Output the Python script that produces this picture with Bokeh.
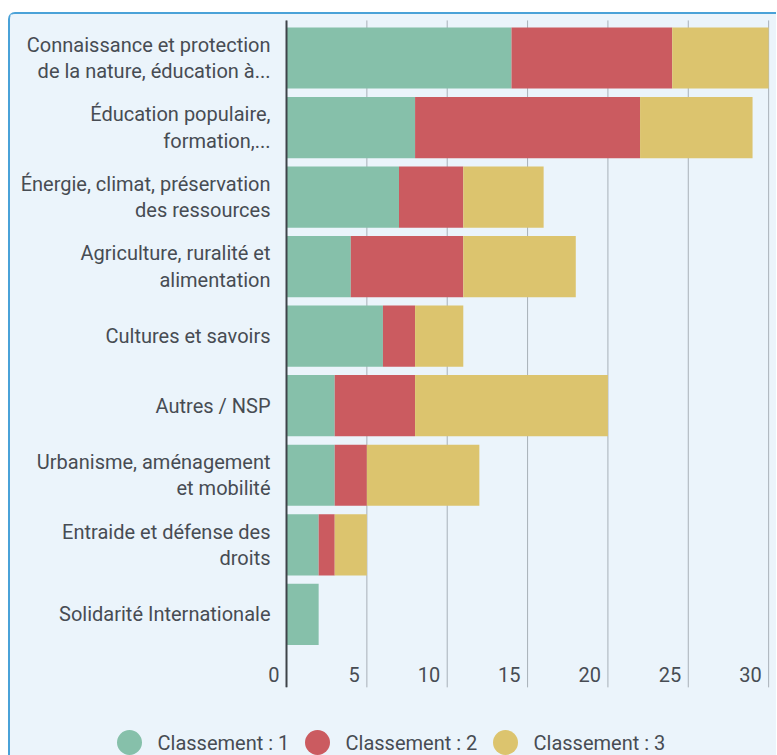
from bokeh.plotting import figure
from bokeh.layouts import column
from bokeh.models import ColumnDataSource, Range1d
from bokeh.core.properties import value
from bokeh.embed import file_html
from bokeh.resources import INLINE

# ---- data ----
categories = [
    "Connaissance et protection\nde la nature, éducation à...",
    "Éducation populaire,\nformation,...",
    "Énergie, climat, préservation\ndes ressources",
    "Agriculture, ruralité et\nalimentation",
    "Cultures et savoirs",
    "Autres / NSP",
    "Urbanisme, aménagement\net mobilité",
    "Entraide et défense des\ndroits",
    "Solidarité Internationale",
]
rank1 = [14, 8, 7, 4, 6, 3, 3, 2, 2]
rank2 = [10, 14, 4, 7, 2, 5, 2, 1, 0]
rank3 = [6, 7, 5, 7, 3, 12, 7, 2, 0]
series_names = ["Classement : 1", "Classement : 2", "Classement : 3"]
series_keys = ["r1", "r2", "r3"]
colors = ["#86c0aa", "#cb5b60", "#dcc46e"]
x_ticks = [0, 5, 10, 15, 20, 25, 30]

# ---- styling / layout constants ----
BG = "#ebf4fb"
TXT = "#474c53"
FONT = "Roboto"
FS = "20px"
W, H = 766, 741
X0, X1 = -17.175, 30.49
Y_TOP, Y_BOT = -0.6255, 10.03
PLOT_TOP, PLOT_BOTTOM = -0.54, 9.05      # extent of the plotting area (y units)
TICK_LABEL_Y = 8.86


def px_x(px):   # canvas pixel -> data x
    return X0 + px / W * (X1 - X0)


def px_y(py):   # canvas pixel -> data y
    return Y_TOP + py / H * (Y_BOT - Y_TOP)


LEGEND_PX_X = [119, 307, 495]   # circle centres (canvas px)
LEGEND_PX_Y = 728

ypos = list(range(len(categories)))
src = ColumnDataSource(dict(y=ypos, r1=rank1, r2=rank2, r3=rank3))

p = figure(width=W, height=H, output_backend="svg", toolbar_location=None,
           x_range=Range1d(X0, X1), y_range=Range1d(Y_BOT, Y_TOP),
           x_axis_location=None, y_axis_location=None, min_border=0,
           min_border_left=0, min_border_right=0, min_border_top=0, min_border_bottom=0)
p.background_fill_color = BG
p.border_fill_color = BG
p.outline_line_color = None
p.grid.visible = False

# vertical grid lines at the ticks
gsrc = ColumnDataSource(dict(x=x_ticks, y0=[PLOT_TOP] * len(x_ticks), y1=[PLOT_BOTTOM] * len(x_ticks)))
p.segment(x0="x", x1="x", y0="y0", y1="y1", source=gsrc, line_color="#a8b0b8", line_width=1)

# stacked bars
p.hbar_stack(series_keys, y="y", height=0.88, source=src, color=colors, line_color=None)

# value axis line at zero
p.segment(x0=[0], x1=[0], y0=[PLOT_TOP], y1=[PLOT_BOTTOM], line_color="#3e4349", line_width=2)

# x tick labels
lab = ColumnDataSource(dict(x=x_ticks, y=[TICK_LABEL_Y] * len(x_ticks), t=[str(v) for v in x_ticks]))
p.text(x="x", y="y", text="t", source=lab, x_offset=-7, text_align="right",
       text_baseline="middle", text_font=value(FONT), text_font_size=FS, text_color=TXT)

# category labels
csrc = ColumnDataSource(dict(x=[0] * len(categories), y=ypos, t=categories))
p.text(x="x", y="y", text="t", source=csrc, x_offset=-16, text_align="right",
       text_baseline="middle", text_font=value(FONT), text_font_size=FS, text_color=TXT,
       text_line_height=1.1)

# ---- legend (circle markers + labels) ----
lsrc = ColumnDataSource(dict(x=[px_x(v) for v in LEGEND_PX_X],
                             y=[px_y(LEGEND_PX_Y)] * len(series_names),
                             c=colors, t=series_names))
p.scatter(x="x", y="y", size=25, fill_color="c", line_color=None, source=lsrc)
p.text(x="x", y="y", text="t", source=lsrc, x_offset=28, text_align="left",
       text_baseline="middle", text_font=value(FONT), text_font_size=FS, text_color=TXT)

layout = column(p, margin=(12, 0, 0, 8),
                styles={"border-top": "2px solid #4aa2d8", "border-left": "2px solid #4aa2d8",
                        "border-top-left-radius": "7px", "background-color": BG})

open("out.html", "w").write(file_html(layout, INLINE))
